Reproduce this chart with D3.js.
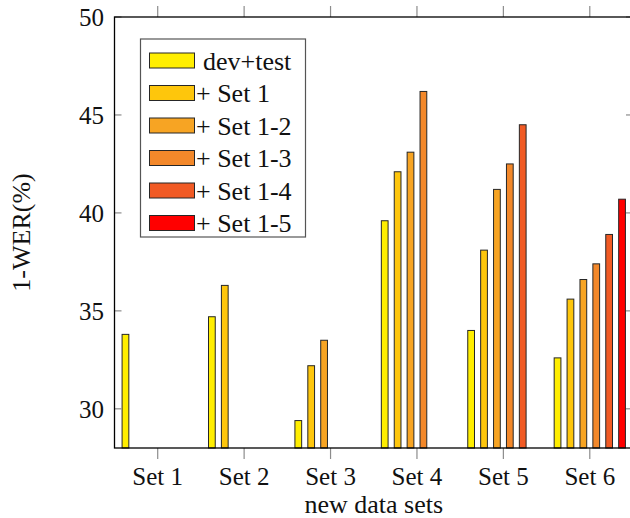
<!DOCTYPE html>
<html>
<head>
<meta charset="utf-8">
<script src="https://cdn.jsdelivr.net/npm/d3@7"></script>
<style>
  body { margin: 0; background: #fff; }
  svg { display: block; }
</style>
</head>
<body>
<div id="chart"></div>
<script>
// categories on the x axis
const categories = ["Set 1", "Set 2", "Set 3", "Set 4", "Set 5", "Set 6"];
// series (legend order)
const seriesNames = ["dev+test", "+ Set 1", "+ Set 1-2", "+ Set 1-3", "+ Set 1-4", "+ Set 1-5"];
const seriesColors = ["#ffee00", "#fec60c", "#f7a423", "#f3882a", "#f15a24", "#ff0000"];
// values per series, one per category (null = no bar)
const devTest = [33.8, 34.7, 29.4, 39.6, 34.0, 32.6];
const plusSet1 = [null, 36.3, 32.2, 42.1, 38.1, 35.6];
const plusSet12 = [null, null, 33.5, 43.1, 41.2, 36.6];
const plusSet13 = [null, null, null, 46.2, 42.5, 37.4];
const plusSet14 = [null, null, null, null, 44.5, 38.9];
const plusSet15 = [null, null, null, null, null, 40.7];
const yTicks = [30, 35, 40, 45, 50];

const allSeries = [devTest, plusSet1, plusSet12, plusSet13, plusSet14, plusSet15];

var width = 630,
  height = 518,
  margin = {top: 17, right: -3, bottom: 70, left: 114.5},
  fontFam = "'Liberation Serif'";

var svg = d3.select("#chart").append("svg")
  .attr("width", width)
  .attr("height", height);

var x = d3.scaleBand()
  .domain(categories)
  .range([margin.left, width - margin.right]);

var xSub = d3.scaleBand()
  .domain(seriesNames)
  .range([-38.7, 38.7])
  .paddingInner(0.4)
  .paddingOuter(0.2);

var y = d3.scaleLinear()
  .domain([28, 50])
  .range([height - margin.bottom, margin.top]);

var x0 = margin.left, x1 = width - margin.right,
  y0 = y(28), y1 = y(50);

// bars
allSeries.forEach(function(vals, si) {
  var name = seriesNames[si];
  svg.append("g")
    .selectAll("rect")
    .data(vals.map((v, i) => ({cat: categories[i], v: v})).filter(d => d.v != null))
    .join("rect")
    .attr("x", d => x(d.cat) + x.bandwidth() / 2 + xSub(name) + 0.5)
    .attr("width", xSub.bandwidth() - 1)
    .attr("y", d => y(d.v))
    .attr("height", d => y(28) - y(d.v))
    .attr("fill", seriesColors[si])
    .attr("stroke", "#262626")
    .attr("stroke-width", 1);
});

// ticks (gray)
var tickG = svg.append("g").attr("stroke", "#8c8c8c").attr("stroke-width", 1.2);
categories.forEach(function(c) {
  var cx = x(c) + x.bandwidth() / 2;
  tickG.append("line").attr("x1", cx).attr("x2", cx).attr("y1", y0).attr("y2", y0 + 11);
  tickG.append("line").attr("x1", cx).attr("x2", cx).attr("y1", y1).attr("y2", y1 - 11);
});
yTicks.forEach(function(t) {
  tickG.append("line").attr("x1", x0).attr("x2", x0 + 7).attr("y1", y(t)).attr("y2", y(t));
  tickG.append("line").attr("x1", x1).attr("x2", x1 - 7).attr("y1", y(t)).attr("y2", y(t));
});

// frame
svg.append("rect")
  .attr("x", x0).attr("y", y1)
  .attr("width", x1 - x0).attr("height", y0 - y1)
  .attr("fill", "none")
  .attr("stroke", "#000")
  .attr("stroke-width", 1.3);

// tick labels
svg.append("g").selectAll("text")
  .data(categories)
  .join("text")
  .attr("x", d => x(d) + x.bandwidth() / 2)
  .attr("y", 485)
  .attr("text-anchor", "middle")
  .attr("font-family", fontFam)
  .attr("font-size", 25)
  .attr("fill", "#111")
  .text(d => d);

svg.append("g").selectAll("text")
  .data(yTicks)
  .join("text")
  .attr("x", 104)
  .attr("y", d => y(d))
  .attr("dy", "0.35em")
  .attr("text-anchor", "end")
  .attr("font-family", fontFam)
  .attr("font-size", 25)
  .attr("fill", "#111")
  .text(d => d);

// axis titles
svg.append("text")
  .attr("x", (x0 + x1) / 2)
  .attr("y", 513)
  .attr("text-anchor", "middle")
  .attr("font-family", fontFam)
  .attr("font-size", 26)
  .attr("fill", "#111")
  .text("new data sets");

svg.append("text")
  .attr("transform", "translate(30," + ((y0 + y1) / 2) + ") rotate(-90)")
  .attr("text-anchor", "middle")
  .attr("font-family", fontFam)
  .attr("font-size", 26)
  .attr("fill", "#111")
  .text("1-WER(%)");

// legend
var legend = svg.append("g");
legend.append("rect")
  .attr("x", 140.5).attr("y", 39)
  .attr("width", 165).attr("height", 198)
  .attr("fill", "#fff")
  .attr("stroke", "#555")
  .attr("stroke-width", 1.2);

var rows = legend.selectAll("g.row")
  .data(seriesNames)
  .join("g")
  .attr("class", "row")
  .attr("transform", (d, i) => "translate(0," + (60.5 + i * 32.5) + ")");

rows.append("rect")
  .attr("x", 149.5).attr("y", -7.5)
  .attr("width", 45).attr("height", 15)
  .attr("fill", (d, i) => seriesColors[i])
  .attr("stroke", "#262626")
  .attr("stroke-width", 1);

rows.append("text")
  .attr("x", (d, i) => i === 0 ? 203 : 196)
  .attr("dy", "0.35em")
  .attr("font-family", fontFam)
  .attr("font-size", 26)
  .attr("fill", "#111")
  .text(d => d);
</script>
</body>
</html>
